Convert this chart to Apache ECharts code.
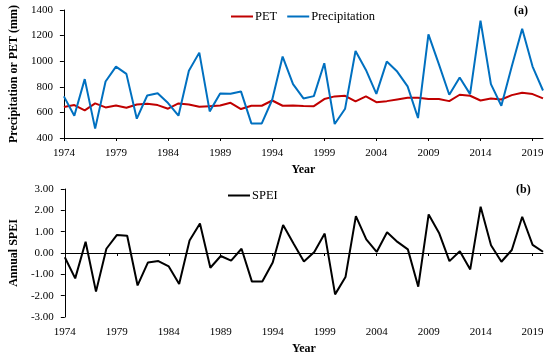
<!DOCTYPE html>
<html>
<head>
<meta charset="utf-8">
<script src="https://cdn.jsdelivr.net/npm/echarts@6/dist/echarts.min.js"></script>
<style>html,body{margin:0;padding:0;background:#fff;}#c{width:550px;height:358px;}</style>
</head>
<body>
<div id="c"></div>
<script>
var years = [];
for (var y = 1974; y <= 2020; y++) years.push(String(y));

var pet = [642,657,616,670,639,654,636,662,667,657,629,670,662,644,649,654,675,626,652,652,693,652,654,650,649,704,725,730,686,725,680,688,701,714,714,704,704,688,738,730,693,709,701,735,753,743,709];
var precipitation = [725,574,860,473,841,958,901,551,732,750,673,574,925,1067,608,748,745,764,514,514,699,1036,821,709,727,984,509,629,1080,932,745,997,919,803,556,1210,977,738,873,743,1317,821,652,958,1254,958,771];
var spei = [-0.20,-1.19,0.53,-1.81,0.20,0.84,0.81,-1.52,-0.44,-0.38,-0.63,-1.45,0.59,1.38,-0.69,-0.14,-0.36,0.20,-1.34,-1.34,-0.45,1.31,0.44,-0.40,0.05,0.91,-1.94,-1.13,1.73,0.64,0.05,0.97,0.52,0.17,-1.58,1.81,0.94,-0.38,0.08,-0.77,2.17,0.36,-0.41,0.14,1.70,0.38,0.06];

var FONT = '"Liberation Serif", "DejaVu Serif", serif';
var chart = echarts.init(document.getElementById('c'), null, {renderer: 'canvas'});

function baseLabel() { return {fontFamily: FONT, fontSize: 11, color: '#000'}; }

chart.setOption({
  animation: false,
  backgroundColor: '#fff',
  grid: [
    {left: 56, right: 7, top: 10, height: 128, containLabel: false},
    {left: 56, right: 7, top: 189, height: 128, containLabel: false}
  ],
  legend: [
    {left: 226, top: 5, itemWidth: 22, itemHeight: 2, itemGap: 10,
     data: [{name: 'PET', icon: 'rect', itemStyle: {color: '#C00000'}}, {name: 'Precipitation', icon: 'rect', itemStyle: {color: '#0070C0'}}],
     textStyle: {fontFamily: FONT, fontSize: 12.5, color: '#000', padding: [0, 0, 0, -3]}},
    {left: 223, top: 184, itemWidth: 22, itemHeight: 2, data: [{name: 'SPEI', icon: 'rect', itemStyle: {color: '#000'}}],
     textStyle: {fontFamily: FONT, fontSize: 12.5, color: '#000', padding: [0, 0, 0, -3]}}
  ],
  xAxis: [
    {type: 'category', gridIndex: 0, data: years, boundaryGap: false,
     axisLine: {lineStyle: {color: '#000', width: 1}},
     axisTick: {interval: 4, length: 3, lineStyle: {color: '#000'}},
     axisLabel: Object.assign(baseLabel(), {interval: 4, margin: 10}),
     name: 'Year', nameLocation: 'middle', nameGap: 26,
     nameTextStyle: {fontFamily: FONT, fontSize: 12, fontWeight: 'bold', color: '#000'}},
    {type: 'category', gridIndex: 1, data: years, boundaryGap: false,
     axisLine: {onZero: true, lineStyle: {color: '#000', width: 1}},
     axisTick: {interval: 4, length: 3, lineStyle: {color: '#000'}},
     axisLabel: {show: false}},
    {type: 'category', gridIndex: 1, data: years, boundaryGap: false, position: 'bottom',
     axisLine: {show: false, onZero: false}, axisTick: {show: false},
     axisLabel: Object.assign(baseLabel(), {interval: 4, margin: 10}),
     name: 'Year', nameLocation: 'middle', nameGap: 26,
     nameTextStyle: {fontFamily: FONT, fontSize: 12, fontWeight: 'bold', color: '#000'}}
  ],
  yAxis: [
    {type: 'value', gridIndex: 0, min: 400, max: 1400, interval: 200,
     axisLine: {show: true, lineStyle: {color: '#000'}},
     axisTick: {show: true, length: 4, lineStyle: {color: '#000'}},
     splitLine: {show: false},
     axisLabel: Object.assign(baseLabel(), {margin: 11, formatter: function (v) { return String(v); }}),
     name: 'Precipitation or PET (mm)', nameLocation: 'middle', nameGap: 43,
     nameTextStyle: {fontFamily: FONT, fontSize: 12, fontWeight: 'bold', color: '#000'}},
    {type: 'value', gridIndex: 1, min: -3, max: 3, interval: 1,
     axisLine: {show: true, onZero: false, lineStyle: {color: '#000'}},
     axisTick: {show: true, length: 4, lineStyle: {color: '#000'}},
     splitLine: {show: false},
     axisLabel: Object.assign(baseLabel(), {margin: 11, formatter: function (v) { return v.toFixed(2); }}),
     name: 'Annual SPEI', nameLocation: 'middle', nameGap: 43,
     nameTextStyle: {fontFamily: FONT, fontSize: 12, fontWeight: 'bold', color: '#000'}}
  ],
  series: [
    {name: 'PET', type: 'line', xAxisIndex: 0, yAxisIndex: 0, data: pet, symbol: 'none',
     lineStyle: {color: '#C00000', width: 2}, itemStyle: {color: '#C00000'}},
    {name: 'Precipitation', type: 'line', xAxisIndex: 0, yAxisIndex: 0, data: precipitation, symbol: 'none',
     lineStyle: {color: '#0070C0', width: 2}, itemStyle: {color: '#0070C0'}},
    {name: 'SPEI', type: 'line', xAxisIndex: 1, yAxisIndex: 1, data: spei, symbol: 'none',
     lineStyle: {color: '#000', width: 2}, itemStyle: {color: '#000'}}
  ],
  graphic: [
    {type: 'text', left: 514, top: 5, style: {text: '(a)', fontFamily: FONT, fontSize: 12, fontWeight: 'bold', fill: '#000'}},
    {type: 'text', left: 516, top: 184, style: {text: '(b)', fontFamily: FONT, fontSize: 12, fontWeight: 'bold', fill: '#000'}}
  ]
});
</script>
</body>
</html>
